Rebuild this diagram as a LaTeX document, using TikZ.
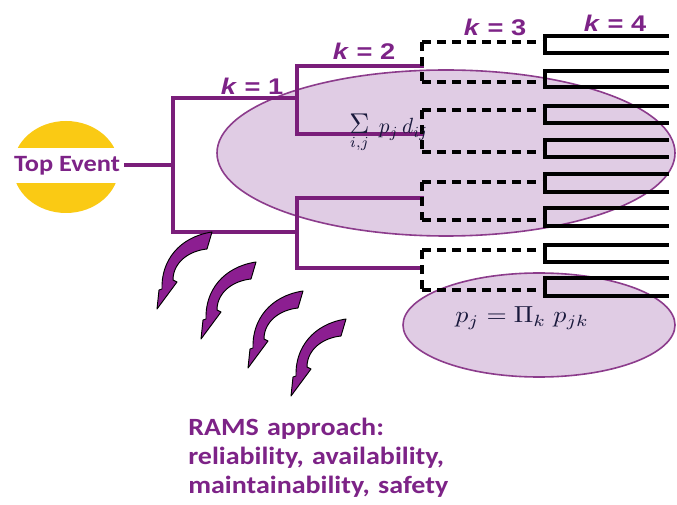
\documentclass[tikz,border=0pt]{standalone}
\usepackage{fontspec}
\setmainfont{Carlito}
\newfontfamily\wideframe{Carlito}[FakeStretch=1.13]
\newfontfamily\klabfont{Liberation Sans}[FakeStretch=1.2]
\definecolor{purp}{RGB}{122,30,122}
\definecolor{txtpurp}{RGB}{125,35,135}
\definecolor{yel}{RGB}{250,202,20}
\definecolor{ellfill}{RGB}{224,204,228}
\definecolor{elldraw}{RGB}{140,60,140}
\definecolor{arrfill}{RGB}{140,30,145}
\definecolor{mathcol}{RGB}{25,25,60}
\tikzset{
  tree/.style={draw=purp, line width=2.3pt, line cap=rect},
  leaf/.style={draw=black, line width=2.3pt, line cap=rect},
  dsh/.style={draw=black, line width=2.4pt, dash pattern=on 6.5pt off 4.8pt},
  klabel/.style={font=\klabfont\fontsize{17}{19}\selectfont\bfseries, text=txtpurp, inner sep=0, anchor=base},
  bubble/.style={fill=ellfill, draw=elldraw, line width=1.2pt},
  formula/.style={text=mathcol, inner sep=0, anchor=base west},
  curvarrow/.pic={
    \filldraw[fill=arrfill, draw=black, line width=0.7pt, line join=round]
      (5,-20) .. controls (4,-48) and (22,-72) .. (55,-77)
      -- (50,-60)
      .. controls (31,-58) and (16,-46) .. (16,-29)
      -- (20,-27) -- (0,0) -- (2,-19) -- cycle;
  }
}
\begin{document}
\begin{tikzpicture}[x=0.75pt,y=-0.75pt]
\useasboundingbox (0,0) rectangle (677,505);
\fill[white] (0,0) rectangle (677,505);

% Top event
\fill[yel] (66,167) ellipse [x radius=53, y radius=46];
\fill[white] (10,148) rectangle (125,183);
\node[font=\wideframe\fontsize{17.5}{20}\selectfont\bfseries, text=txtpurp, inner sep=0, anchor=base] (te) at (67,172) {Top Event};

% bubbles
\path[bubble] (446,153) ellipse [x radius=229, y radius=83];
\path[bubble] (539,325) ellipse [x radius=136, y radius=52];

% k = 1
\coordinate (k1) at (173,165);
\draw[tree] (te.east |- k1) ++(4pt,0) -- (k1);
\draw[tree] (297,98) -- (173,98) -- (173,232) -- (297,232);
% k = 2
\draw[tree] (422,66) -- (297,66) -- (297,134) -- (422,134);
\draw[tree] (422,198) -- (297,198) -- (297,268) -- (422,268);
% k = 3
\foreach \a/\b in {42/82,110/152,182/220,250/290}{
  \draw[dsh] (422,\a) -- (545,\a);
  \draw[dsh] (422,\b) -- (545,\b);
  \draw[dsh] (422,\a) -- (422,\b);
}
% k = 4
\foreach \a/\b in {36/53,71/87,106/123,140/157,174/192,208/226,245/262,278/296}{
  \draw[leaf] (667,\a) -- (545,\a) -- (545,\b) -- (667,\b);
}

% labels
\node[klabel] (l1) at (252,95) {\textit{k} = 1};
\node[klabel] (l2) at (364,60) {\textit{k} = 2};
\node[klabel] (l3) at (495,36) {\textit{k} = 3};
\node[klabel] (l4) at (615,32) {\textit{k} = 4};

% formulas
\node[formula] (sumf) at (349,134)
  {\scalebox{1.6}[1.65]{$\mathop{\scalebox{1.3}{$\Sigma$}}\limits_{i,j}\; p_j\, d_{ij}$}};
\node[formula] (prodf) at (455,323)
  {\scalebox{1.95}[1.74]{$p_j = \Pi_k\; p_{jk}$}};

% curved arrows
\pic at (157,309) {curvarrow};
\pic at (201,339) {curvarrow};
\pic at (248,368) {curvarrow};
\pic at (291,396) {curvarrow};

% RAMS text
\node[anchor=base west, inner sep=0, align=left, text width=380pt, text=txtpurp,
      font=\wideframe\fontsize{18.6}{22}\selectfont\bfseries] (rams) at (188,435)
  {RAMS approach:\\reliability, availability,\\maintainability, safety};
\end{tikzpicture}
\end{document}
